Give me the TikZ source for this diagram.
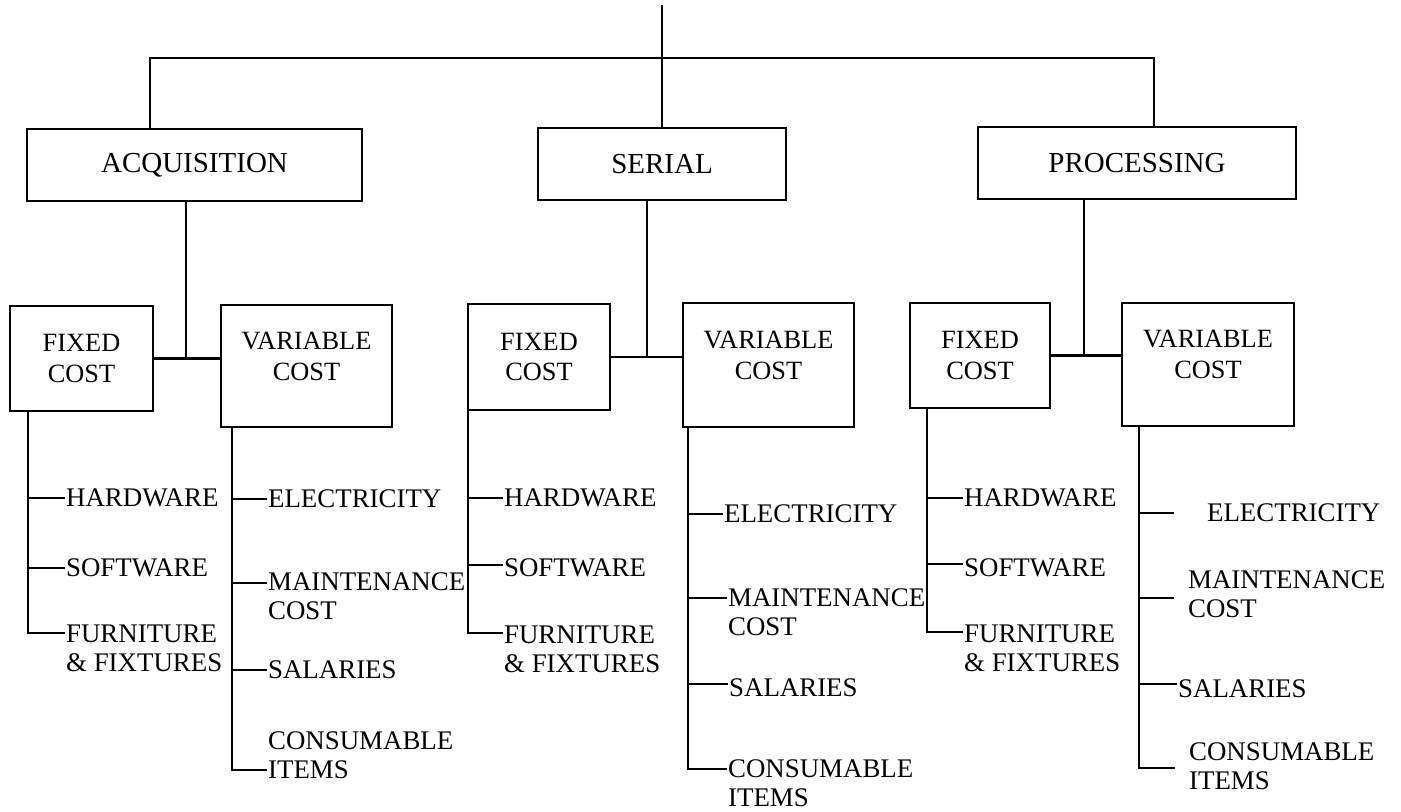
\documentclass[tikz,border=0pt]{standalone}
\usepackage{fontspec}
\setmainfont{Liberation Serif}
\usetikzlibrary{calc}

\begin{document}
\begin{tikzpicture}[x=0.02cm,y=-0.02cm,line width=1.3pt,
  dept/.style={draw,minimum height=1.44cm,inner sep=2pt,font=\fontsize{16.5}{19}\selectfont},
  costbox/.style={draw,align=center,inner sep=2pt,font=\fontsize{15}{17.6}\selectfont},
  varbox/.style={costbox,execute at end node={\rule[-11.4pt]{0pt}{11.4pt}}},
  leaf/.style={anchor=west,align=left,inner sep=0pt,font=\fontsize{15.3}{16.5}\selectfont}]
  \useasboundingbox (0,0) rectangle (1401,812);
  \node[dept,minimum width=6.70cm] (acq) at (194.5,165){ACQUISITION};
  \node[dept,minimum width=4.96cm] (ser) at (662,164){SERIAL};
  \node[dept,minimum width=6.36cm] (pro) at (1137,163){PROCESSING};
  \node[costbox,minimum width=2.86cm,minimum height=2.10cm] (fcA) at (81.5,358.5){FIXED\\COST};
  \node[varbox,minimum width=3.42cm,minimum height=2.44cm] (vcA) at (306.5,366){VARIABLE\\COST};
  \node[costbox,minimum width=2.84cm,minimum height=2.12cm] (fcB) at (539,357){FIXED\\COST};
  \node[varbox,minimum width=3.42cm,minimum height=2.48cm] (vcB) at (768.5,365){VARIABLE\\COST};
  \node[costbox,minimum width=2.80cm,minimum height=2.10cm] (fcC) at (980,355.5){FIXED\\COST};
  \node[varbox,minimum width=3.44cm,minimum height=2.46cm] (vcC) at (1208,364.5){VARIABLE\\COST};
  \node[leaf] (hwA) at (65,498){HARDWARE};
  \node[leaf] (swA) at (65,568){SOFTWARE};
  \node[leaf] (fuA) at (65,648){FURNITURE\\\& FIXTURES};
  \node[leaf] (elA) at (267,499){ELECTRICITY};
  \node[leaf] (maA) at (267,596){MAINTENANCE\\COST};
  \node[leaf] (saA) at (267,670){SALARIES};
  \node[leaf] (coA) at (267,755){CONSUMABLE\\ITEMS};
  \node[leaf] (hwB) at (503,498){HARDWARE};
  \node[leaf] (swB) at (503,568){SOFTWARE};
  \node[leaf] (fuB) at (503,649){FURNITURE\\\& FIXTURES};
  \node[leaf] (elB) at (723,514){ELECTRICITY};
  \node[leaf] (maB) at (727,612){MAINTENANCE\\COST};
  \node[leaf] (saB) at (728,688){SALARIES};
  \node[leaf] (coB) at (727,783){CONSUMABLE\\ITEMS};
  \node[leaf] (hwC) at (963,498){HARDWARE};
  \node[leaf] (swC) at (963,568){SOFTWARE};
  \node[leaf] (fuC) at (963,648){FURNITURE\\\& FIXTURES};
  \node[leaf] (elC) at (1206,513){ELECTRICITY};
  \node[leaf] (maC) at (1187,594){MAINTENANCE\\COST};
  \node[leaf] (saC) at (1177,689){SALARIES};
  \node[leaf] (coC) at (1188,766){CONSUMABLE\\ITEMS};
  \coordinate (root) at (662,5);
  \coordinate (bar) at (662,58);
  \draw (root) -- (ser.north);
  \draw ($(acq.north)+(-44.5,0)$) |- (bar) -| ($(pro.north)+(17,0)$);
  \coordinate (jA) at ($(acq.south)+(-8.5,0)$);
  \coordinate (jB) at ($(ser.south)+(-15,0)$);
  \coordinate (jC) at ($(pro.south)+(-53,0)$);
  \draw (jA) -- (jA |- fcA.east);
  \draw (fcA.east) -- (fcA.east -| vcA.west);
  \draw (jB) -- (jB |- fcB.east);
  \draw (fcB.east) -- (fcB.east -| vcB.west);
  \draw (jC) -- (jC |- fcC.east);
  \draw (fcC.east) -- (fcC.east -| vcC.west);
  \coordinate (fA) at ($(fcA.south west)+(19,0)$);
  \coordinate (vA) at ($(vcA.south west)+(12,0)$);
  \coordinate (fB) at ($(fcB.south west)+(1,0)$);
  \coordinate (vB) at ($(vcB.south west)+(6,0)$);
  \coordinate (fC) at ($(fcC.south west)+(18,0)$);
  \coordinate (vC) at ($(vcC.south west)+(18,0)$);
  \draw (hwA.west) -| (fA);
  \draw (swA.west) -| (fA);
  \draw ($(fuA.west)+(0,-15)$) -| (fA);
  \draw (elA.west) -| (vA);
  \draw ($(maA.west)+(0,-13)$) -| (vA);
  \draw (saA.west) -| (vA);
  \draw ($(coA.west)+(0,15)$) -| (vA);
  \draw (hwB.west) -| (fB);
  \draw ($(swB.west)+(0,-3)$) -| (fB);
  \draw ($(fuB.west)+(0,-16)$) -| (fB);
  \draw (elB.west) -| (vB);
  \draw ($(maB.west)+(0,-14)$) -| (vB);
  \draw ($(saB.west)+(0,-4)$) -| (vB);
  \draw ($(coB.west)+(0,-14)$) -| (vB);
  \draw (hwC.west) -| (fC);
  \draw ($(swC.west)+(0,-4)$) -| (fC);
  \draw ($(fuC.west)+(0,-16)$) -| (fC);
  \draw (vC |- elC.west) -- +(35,0);
  \draw ($(vC |- maC.west)+(0,4)$) -- +(35,0);
  \draw ($(saC.west)+(0,-5)$) -| (vC);
  \draw (vC) |- ($(coC.west)+(-13,2)$);
\end{tikzpicture}
\end{document}
